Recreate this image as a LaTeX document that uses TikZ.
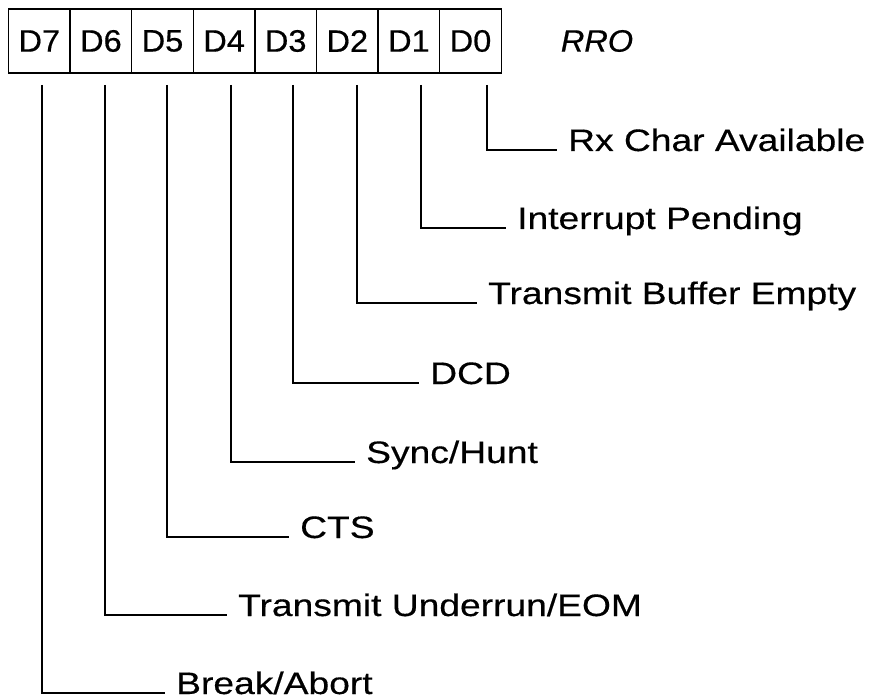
\documentclass[tikz,border=0pt]{standalone}
\usepackage{fontspec}
\setmainfont{Liberation Sans}
\newfontfamily\lblfont{Liberation Sans}[FakeStretch=1.2,FakeBold=0.4]
\newfontfamily\regfont{Liberation Sans}[FakeStretch=1.05,FakeBold=0.5]
\begin{document}
\begin{tikzpicture}[x=1pt,y=-1pt,
  cell/.style={draw, line width=1.5pt, minimum width=61.6pt, minimum height=64pt,
    inner sep=0pt, font=\regfont\fontsize{31}{31}\selectfont},
  lbl/.style={anchor=base west, inner sep=0pt, font=\lblfont\fontsize{31}{31}\selectfont},
  conn/.style={line width=1.3pt}]
\useasboundingbox (0,0) rectangle (874,700);
% register cells
\node[cell] (d7) at (39.3,41) {D7};
\node[cell] (d6) at (100.9,41) {D6};
\node[cell] (d5) at (162.5,41) {D5};
\node[cell] (d4) at (224.1,41) {D4};
\node[cell] (d3) at (285.7,41) {D3};
\node[cell] (d2) at (347.3,41) {D2};
\node[cell] (d1) at (408.9,41) {D1};
\node[cell] (d0) at (470.5,41) {D0};
\node[font=\regfont\itshape\fontsize{31}{31}\selectfont, inner sep=0pt] (rro) at (597,41) {RRO};
% connector tops
\coordinate (t7) at (42,85);
\coordinate (t6) at (105,85);
\coordinate (t5) at (167,85);
\coordinate (t4) at (231,85);
\coordinate (t3) at (293,85);
\coordinate (t2) at (357,85);
\coordinate (t1) at (421,85);
\coordinate (t0) at (487,85);
% labels
\node[lbl] (l0) at (568,151) {Rx Char Available};
\node[lbl] (l1) at (517,229) {Interrupt Pending};
\node[lbl] (l2) at (488,304) {Transmit Buffer Empty};
\node[lbl] (l3) at (430,384) {DCD};
\node[lbl] (l4) at (366,463) {Sync/Hunt};
\node[lbl] (l5) at (300,538) {CTS};
\node[lbl] (l6) at (238,616) {Transmit Underrun/EOM};
\node[lbl] (l7) at (176,694) {Break/Abort};
% connectors
\foreach \k in {0,...,7}{
  \draw[conn] (t\k) |- ([xshift=-11pt,yshift=1pt]l\k.base west);
}
\end{tikzpicture}
\end{document}
